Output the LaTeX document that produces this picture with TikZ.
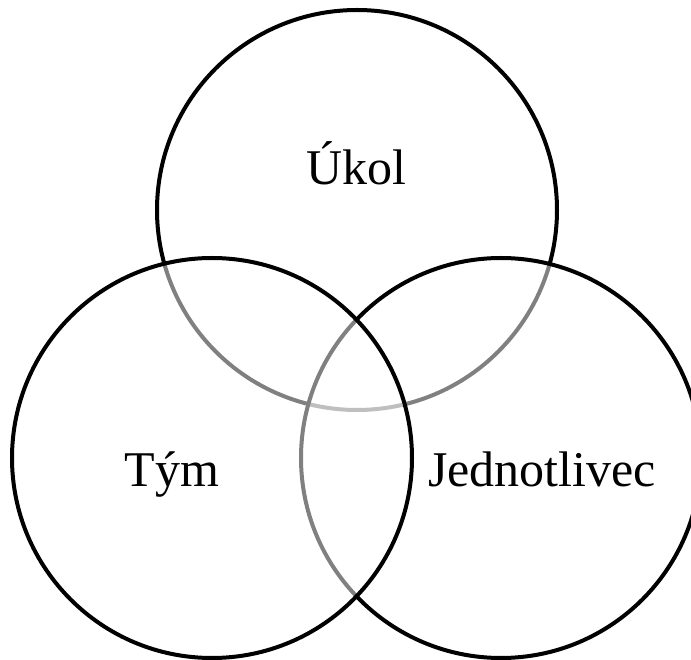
\documentclass[tikz,border=0pt]{standalone}
\usepackage{fontspec}
\setmainfont{Liberation Serif}
\begin{document}
\begin{tikzpicture}[x=1pt,y=1pt,
  ring/.style={circle, draw=black, line width=4pt, fill=white, fill opacity=0.5,
    draw opacity=1, minimum size=400pt, inner sep=0pt},
  label/.style={anchor=base, inner sep=0pt, font=\fontsize{50}{60}\selectfont}]
  \useasboundingbox (0,0) rectangle (691,659);
  \clip (0,0) rectangle (691,659);
  % circles: later ones veil the earlier outlines they cover
  \node[ring] (ukol) at (357,449) {};
  \node[ring] (jedn) at (501,201) {};
  \node[ring] (tym)  at (212,201) {};
  % labels
  \node[label] (tUkol) at (356,474) {Úkol};
  \node[label] (tTym)  at (172,172) {Tým};
  \node[label] (tJedn) at (542,172) {Jednotlivec};
\end{tikzpicture}
\end{document}
